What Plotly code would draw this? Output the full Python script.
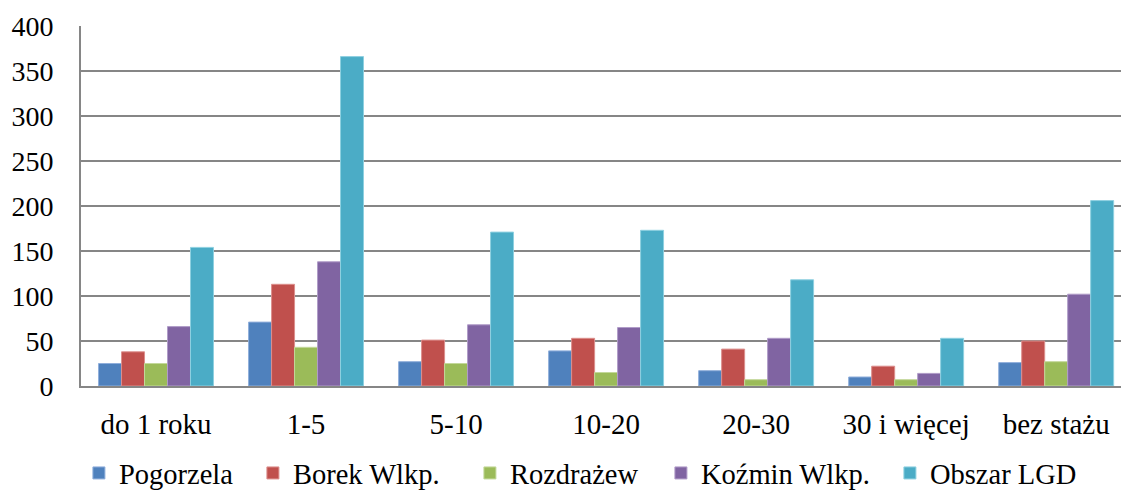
import plotly.graph_objects as go

categories = ["do 1 roku", "1-5", "5-10", "10-20", "20-30", "30 i więcej", "bez stażu"]
series_names = ["Pogorzela", "Borek Wlkp.", "Rozdrażew", "Koźmin Wlkp.", "Obszar LGD"]
pogorzela = [25, 71, 27, 39, 17, 10, 26]
borek = [38, 113, 51, 53, 41, 22, 50]
rozdrazew = [25, 43, 25, 15, 7, 7, 27]
kozmin = [66, 138, 68, 65, 53, 14, 102]
obszar = [154, 366, 171, 173, 118, 53, 206]
y_ticks = [0, 50, 100, 150, 200, 250, 300, 350, 400]

colors = ["#4F81BD", "#C0504D", "#9BBB59", "#8064A2", "#4BACC6"]
edge = ["#8FAEDB", "#DC8F8D", "#C3D89A", "#B09CC8", "#8ED0E0"]
legend_widths = [129, 172, 146, 184, 150]
values = [pogorzela, borek, rozdrazew, kozmin, obszar]

FONT = "'Liberation Serif', 'Times New Roman', serif"

fig = go.Figure()
for name, vals, c, e, lw in zip(series_names, values, colors, edge, legend_widths):
    fig.add_trace(go.Bar(
        x=categories, y=vals, name=name,
        marker=dict(color=c, line=dict(color=e, width=1)),
        legendwidth=lw,
    ))

fig.update_layout(
    width=1121, height=491,
    margin=dict(l=80.5, r=0, t=26, b=105, autoexpand=False),
    plot_bgcolor="white", paper_bgcolor="white",
    barmode="group", bargap=0.234, bargroupgap=0,
    font=dict(family=FONT, size=29, color="black"),
    showlegend=True,
    legend=dict(
        orientation="h", x=-0.002, xanchor="left", y=-0.172, yanchor="top",
        font=dict(family=FONT, size=28.5, color="black"),
        bgcolor="rgba(0,0,0,0)", borderwidth=0,
        itemclick=False, itemdoubleclick=False, traceorder="normal",
    ),
)
fig.update_xaxes(
    type="category", range=[-0.5, 6.432],
    showline=True, linecolor="#868686", linewidth=2,
    showgrid=False, ticks="", ticklabelstandoff=11,
    tickfont=dict(family=FONT, size=29, color="black"),
)
fig.update_yaxes(
    range=[0, 400], tickvals=y_ticks, ticktext=[str(v) for v in y_ticks],
    showline=True, linecolor="#868686", linewidth=2,
    showgrid=True, gridcolor="#868686", gridwidth=2,
    zeroline=False, ticks="", ticklabelstandoff=20,
    tickfont=dict(family=FONT, size=28, color="black"),
)

fig.write_html(
    "out.html",
    config={"displayModeBar": False},
    post_script="document.body.style.margin='0px';",
)
